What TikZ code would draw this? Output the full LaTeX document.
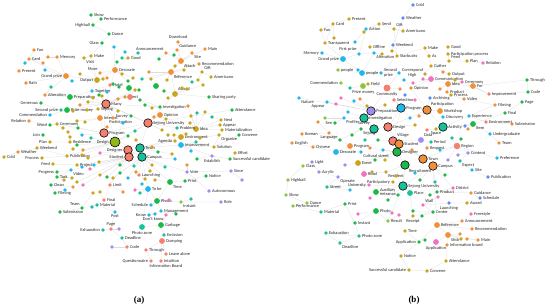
\documentclass[tikz,border=0pt]{standalone}
\usepackage{fontspec}
\setmainfont{Carlito}
\newfontfamily\capfont{Liberation Serif}
\usetikzlibrary{backgrounds}

\definecolor{corg}{HTML}{F0913A}
\definecolor{colv}{HTML}{C9A51C}
\definecolor{cgrn}{HTML}{1CB84A}
\definecolor{ctea}{HTML}{17C29B}
\definecolor{ccya}{HTML}{21B7EA}
\definecolor{csal}{HTML}{F5806E}
\definecolor{cpnk}{HTML}{F272C0}
\definecolor{clav}{HTML}{A08CF2}
\definecolor{clgr}{HTML}{8CC63E}
\definecolor{cblu}{HTML}{5B8EF5}
\definecolor{cygr}{HTML}{8DB817}

\tikzset{
  dot/.style={circle, inner sep=0pt, minimum size=3.9pt},
  big/.style={minimum size=5.8pt},
  hub/.style={minimum size=8.5pt, draw=black, line width=0.6pt},
  lbl/.style={font=\fontsize{4.4}{4.8}\selectfont, inner sep=0.5pt, text=black!85},
  every label/.style={lbl},
  edge/.style={draw=gray!27, line width=0.25pt},
  capt/.style={font=\capfont\bfseries\fontsize{9}{10}\selectfont, inner sep=0pt}
}

\begin{document}
\begin{tikzpicture}[x=1pt, y=-1pt, label distance=0.2pt]
  \useasboundingbox (0,0) rectangle (550,308);

  % (a) hubs
  \node[dot, hub, minimum size=10pt, fill=cygr, label=left:Design] (adesign) at (115,142) {};
  \node[dot, hub, fill=csal, label=left:Designer] (adesigner) at (128,150) {};
  \node[dot, hub, fill=csal, label=left:Student] (astudent) at (129,157) {};
  \node[dot, hub, fill=ctea, label=right:Town] (atown) at (140,148) {};
  \node[dot, hub, fill=ctea, label=right:Campus] (acampus) at (142,157) {};
  \node[dot, hub, fill=csal, label=right:Sejong University] (asejuni) at (148,123) {};
  \node[dot, hub, fill=csal, label=right:Program] (aprog) at (104,133) {};
  \node[dot, hub, fill=csal, label=right:Many] (amany) at (106,104) {};

  % (a) top left
  \node[dot, fill=cgrn, label=right:Show] (ashow) at (91,15) {};
  \node[dot, fill=cgrn, label=right:Performance] (aperf) at (101,19) {};
  \node[dot, fill=cgrn, label=left:Highball] (ahigh) at (93,25) {};
  \node[dot, fill=cgrn, label=right:Dance] (adance) at (109,34) {};
  \node[dot, fill=cgrn, label=left:Glass] (aglass) at (102,43) {};
  \node[dot, fill=corg, label=right:Fan] (afan) at (34,50) {};
  \node[dot, fill=corg, label=right:Memory] (amem) at (57,57) {};
  \node[dot, fill=colv, label=right:Make] (amake) at (91,56) {};
  \node[dot, fill=corg, label=right:Card] (acard) at (29,59) {};
  \node[dot, fill=colv, label=below right:Visit] (avisit) at (84,58) {};
  \node[dot, fill=colv, label=right:Good] (agood) at (128,58) {};
  \node[dot, fill=corg, label=right:Present] (apres) at (19,71) {};
  \node[dot, big, fill=corg, label=left:Grand prize] (agrand) at (66,76) {};
  \node[dot, fill=corg, label=above left:More] (amore) at (100,73) {};
  \node[dot, big, fill=corg, label=right:Decorate] (adeco) at (115,70) {};
  \node[dot, big, fill=colv, label=left:Output] (aout) at (97,80) {};
  \node[dot, fill=corg, label=right:Rain] (arain) at (26,83) {};
  \node[dot, fill=ccya, label=right:Together] (atog) at (92,91) {};
  \node[dot, fill=csal, label=right:Hotel] (ahotel) at (110,85) {};
  \node[dot, fill=corg, label=right:Alteration] (aalt) at (45,95) {};
  \node[dot, big, fill=cgrn, label=right:Preparation] (aprep) at (70,97) {};
  \node[dot, fill=colv, label=right:Event] (aevent) at (125,97) {};

  % (a) top right
  \node[dot, fill=corg, label=above:Download] (adown) at (178,42) {};
  \node[dot, fill=corg, label=above left:Announcement] (aann) at (166,53) {};
  \node[dot, fill=corg, label=above right:Guidance] (aguid) at (177,50) {};
  \node[dot, fill=corg, label=right:Main] (amain) at (205,49) {};
  \node[dot, fill=corg, label=below right:Site] (asite) at (192,53) {};
  \node[dot, big, fill=corg, label=below right:Attach] (aatt) at (181,61) {};
  \node[dot, fill=corg, label=right:Recommendation] (arec) at (199,64) {};
  \node[dot, fill=colv, label=above right:Gift] (agift) at (202,72) {};
  \node[dot, fill=colv, label=right:Americano] (aamer) at (211,77) {};
  \node[dot, big, fill=corg, label=below right:Reference] (aref) at (171,72) {};
  \node[dot, big, fill=colv, label=above right:Award] (aaward) at (175,94) {};
  \node[dot, fill=cgrn, label=right:Sharing party] (ashare) at (209,97) {};

  % (a) left
  \node[dot, fill=cgrn, label=left:Generous] (agen) at (41,103) {};
  \node[dot, fill=ctea, label=left:Second prize] (asec) at (61,110) {};
  \node[dot, big, fill=cgrn, label=right:Prize money] (aprize) at (67,110) {};
  \node[dot, fill=ccya, label=left:Commendation] (acomm) at (50,115) {};
  \node[dot, fill=colv, label=right:Sejong] (asejong) at (98,109) {};
  \node[dot, fill=corg, label=left:Relation] (arel) at (29,121) {};
  \node[dot, big, fill=corg, label=right:Interest] (aint) at (100,118) {};
  \node[dot, fill=cgrn, label=left:Survey] (asurvey) at (131,116) {};
  \node[dot, fill=cgrn, label=left:Word] (aword) at (50,125) {};
  \node[dot, fill=colv, label=right:Ceremony] (acere) at (57,124) {};
  \node[dot, fill=corg, label=above right:Participation] (apart) at (107,127) {};
  \node[dot, fill=cgrn, label=left:Join] (ajoin) at (43,135) {};
  \node[dot, fill=colv, label=left:Plan] (aplan) at (50,142) {};
  \node[dot, fill=colv, label=right:Residence] (ares) at (70,142) {};
  \node[dot, fill=corg, label=right:Weather] (aweather) at (18,152) {};
  \node[dot, fill=colv, label=right:Weekend] (aweek) at (37,148) {};
  \node[dot, fill=colv, label=right:Cold] (acold) at (4,157) {};
  \node[dot, fill=colv, label=left:Process] (aproc) at (42,158) {};
  \node[dot, fill=colv, label=right:Publication] (apub) at (67,156) {};
  \node[dot, fill=colv, label=left:Feed] (afeed) at (53,164) {};
  \node[dot, fill=colv, label=right:Project] (aproj) at (77,165) {};
  \node[dot, fill=cgrn, label=left:Progress] (aprogr) at (57,172) {};
  \node[dot, fill=ccya, label=below right:Video] (avideo) at (71,170) {};
  \node[dot, fill=cgrn, label=right:Task] (atask) at (57,177) {};
  \node[dot, fill=cgrn, label=right:Clean] (aclean) at (51,185) {};
  \node[dot, fill=cgrn, label=right:Filming] (afilm) at (55,193) {};
  \node[dot, fill=csal, label=right:Limit] (alimit) at (110,185) {};

  % (a) right
  \node[dot, fill=cgrn, label=right:Attendance] (aattend) at (232,110) {};
  \node[dot, fill=cgrn, label=right:Investigation] (ainv) at (160,107) {};
  \node[dot, big, fill=corg, label=right:Opinion] (aopin) at (160,115) {};
  \node[dot, fill=colv, label=right:Next] (anext) at (221,120) {};
  \node[dot, fill=colv, label=right:Appear] (aappear) at (220,125) {};
  \node[dot, fill=colv, label=right:Materialization] (amat) at (222,130) {};
  \node[dot, big, fill=colv, label=right:Idea] (aidea) at (196,129) {};
  \node[dot, fill=ctea, label=right:Problem] (aprob) at (177,128) {};
  \node[dot, fill=cgrn, label=right:Convene] (aconv) at (239,135) {};
  \node[dot, fill=colv, label=below right:Organize] (aorg) at (219,135) {};
  \node[dot, big, fill=colv, label=right:Environment] (aenv) at (181,137) {};
  \node[dot, fill=colv, label=left:Agenda] (aagenda) at (175,141) {};
  \node[dot, big, fill=ccya, label=right:Improvement] (aimpr) at (181,145) {};
  \node[dot, fill=colv, label=right:Solution] (asol) at (214,147) {};
  \node[dot, fill=colv, label=right:Effort] (aeffort) at (235,153) {};
  \node[dot, fill=cgrn, label=right:Successful candidate] (asucc) at (230,159) {};
  \node[dot, fill=clav, label=below:Establish] (aestab) at (212,156) {};
  \node[dot, fill=clav, label=right:Since] (asince) at (231,171) {};
  \node[dot, fill=csal, label=right:Launching] (alaunch) at (139,175) {};
  \node[dot, fill=clav, label=right:Vote] (avote) at (187,172) {};
  \node[dot, fill=cgrn, label=right:Notice] (anotice) at (206,176) {};
  \node[dot, fill=cgrn, label=right:Print] (aprint) at (185,181) {};
  \node[dot, big, fill=cgrn, label=below right:Time] (atime) at (170,182) {};
  \node[dot, big, fill=ccya, label=right:To be] (atobe) at (148,189) {};
  \node[dot, fill=clav, label=right:Autonomous] (aauto) at (209,191) {};

  % (a) bottom
  \node[dot, fill=clav, label=right:Role] (arole) at (221,202) {};
  \node[dot, big, fill=cgrn, label=right:Photo] (aphoto) at (157,201) {};
  \node[dot, fill=clgr, label=below right:Instant] (ainst) at (181,202) {};
  \node[dot, fill=ccya, label=left:Schedule] (asched) at (151,205) {};
  \node[dot, fill=ccya, label=right:Management] (amanage) at (161,211) {};
  \node[dot, fill=ccya, label=left:Know] (aknow) at (149,215) {};
  \node[dot, fill=cpnk, label=below left:Don't know] (adont) at (166,215) {};
  \node[dot, big, fill=cgrn, label=right:Garbage] (agarb) at (161,225) {};
  \node[dot, big, fill=ctea, label=below:Photo zone] (azone) at (142,227) {};
  \node[dot, fill=ctea, label=right:Emission] (aemis) at (164,235) {};
  \node[dot, big, fill=csal, label=right:Dumping] (adump) at (162,241) {};
  \node[dot, fill=csal, label=right:Through] (athrough) at (146,250) {};
  \node[dot, fill=csal, label=right:Leave alone] (aleave) at (166,254) {};
  \node[dot, fill=csal, label=left:Questionnaire] (aquest) at (151,261) {};
  \node[dot, fill=csal, label=right:Intuition] (aintu) at (161,261) {};
  \node[lbl] (aboard) at (166,266) {Information Board};
  \node[dot, fill=cgrn, label=above left:Team] (ateam) at (82,208) {};
  \node[dot, fill=ctea, label=right:Material] (amater) at (97,205) {};
  \node[dot, fill=csal, label=right:Final] (afinal) at (104,200) {};
  \node[dot, fill=cgrn, label=right:Submission] (asubm) at (60,212) {};
  \node[dot, fill=ccya, label=below:Post] (apost) at (115,212) {};
  \node[dot, fill=csal, label=above:Page] (apage) at (111,229) {};
  \node[dot, fill=ctea, label=left:Exhaustion] (aexh) at (103,230) {};
  \node[dot, fill=ctea, label=right:Deadline] (adead) at (122,238) {};
  \node[dot, fill=csal, label=right:Code] (acode) at (127,247) {};

  % (a) unlabelled members
  \foreach \n/\x/\y/\c/\h in {
      ua1/25/63/ccya/acard, ua2/43/63/corg/acard, ua3/48/57/corg/amem, ua4/45/70/ccya/agrand,
      ua5/72/81/ccya/agrand, ua6/51/87/ctea/aalt, ua7/80/74/colv/aout, ua8/114/47/ccya/adeco,
      ua9/125/52/ccya/agood, ua10/138/53/ctea/agood, ua11/117/62/cgrn/adeco, ua12/122/58/ctea/agood,
      ua13/103/79/colv/aout, ua14/107/78/corg/aout, ua15/122/74/colv/adeco, ua16/128/81/cgrn/adeco,
      ua17/133/78/colv/adeco, ua18/113/84/cgrn/ahotel, ua19/119/87/cgrn/ahotel, ua20/135/90/colv/amany,
      ua21/139/90/cgrn/amany, ua22/99/95/cgrn/amany, ua23/102/96/colv/amany, ua24/107/92/ccya/atog,
      ua25/174/55/cgrn/aatt, ua26/159/59/cgrn/aann, ua27/175/66/colv/aatt, ua28/184/70/colv/aref,
      ua29/167/80/colv/aref, ua30/192/82/ctea/aref, ua31/198/80/colv/agift, ua32/203/85/colv/aaward,
      ua33/182/88/colv/aaward, ua34/187/89/colv/aaward, ua35/151/79/colv/aref, ua36/149/72/corg/aref,
      ua37/142/79/ctea/aref, ua38/164/91/cgrn/aaward, ua39/73/111/colv/aprize, ua40/80/105/corg/amany,
      ua41/88/102/colv/amany, ua42/93/98/colv/amany, ua43/87/110/colv/asejong, ua44/77/121/colv/aint,
      ua45/85/122/colv/aint, ua46/63/128/colv/acere, ua47/68/132/colv/ares, ua48/78/128/cgrn/aprog,
      ua49/70/137/colv/ares, ua50/82/135/ccya/aprog, ua51/91/138/ctea/adesign, ua52/77/145/cgrn/adesign,
      ua53/73/149/colv/apub, ua54/83/150/corg/adesign, ua55/82/155/colv/adesign, ua56/88/158/colv/adesigner,
      ua57/100/153/cpnk/adesigner, ua58/99/162/colv/astudent, ua59/94/165/ccya/astudent, ua60/90/169/cpnk/astudent,
      ua61/82/167/ccya/aproj, ua62/72/178/colv/atask, ua63/64/180/colv/atask, ua64/77/182/colv/astudent,
      ua65/83/185/cpnk/astudent, ua66/100/175/colv/astudent, ua67/107/177/cgrn/astudent, ua68/113/178/colv/acampus,
      ua69/120/173/cgrn/acampus, ua70/128/178/ccya/acampus, ua71/136/172/colv/acampus, ua72/123/192/corg/alimit,
      ua73/93/193/colv/ateam, ua74/100/192/colv/afinal, ua75/73/187/corg/aclean, ua76/65/190/ccya/afilm,
      ua77/152/108/colv/ainv, ua78/168/98/colv/aaward, ua79/154/117/corg/aopin, ua80/166/119/colv/aopin,
      ua81/188/106/corg/aidea, ua82/191/116/colv/aidea, ua83/197/113/ctea/aidea, ua84/205/112/colv/aidea,
      ua85/162/130/colv/asejuni, ua86/168/135/colv/aprob, ua87/174/135/colv/aenv, ua88/186/134/colv/aenv,
      ua89/190/123/colv/aidea, ua90/212/117/ctea/anext, ua91/196/142/ctea/aimpr, ua92/191/151/ccya/aimpr,
      ua93/200/138/colv/aorg, ua94/152/147/colv/atown, ua95/158/152/cgrn/atown, ua96/197/159/cgrn/aestab,
      ua97/172/154/colv/atown, ua98/175/159/ccya/acampus, ua99/152/165/colv/acampus, ua100/150/171/colv/acampus,
      ua101/165/167/ctea/acampus, ua102/187/165/corg/avote, ua103/155/180/colv/atime, ua104/145/179/colv/alaunch,
      ua105/142/184/ccya/atobe, ua106/135/190/cpnk/atobe, ua107/140/193/ctea/atobe, ua108/242/180/clav/asince,
      ua109/118/111/colv/amany, ua110/123/123/ccya/adesign, ua111/135/131/ctea/asejuni, ua112/113/118/corg/amany,
      ua113/128/136/cgrn/adesign, ua114/136/140/colv/atown, ua115/120/165/cgrn/astudent, ua116/134/166/ctea/acampus,
      ua117/119/229/clav/apage, ua118/112/247/clav/acode, ua119/176/214/cgrn/amanage, ua120/191/199/ctea/ainst,
      ua121/169/200/cpnk/aphoto, ua122/155/214/ccya/aknow, ua123/92/207/ctea/amater, ua124/140/100/cgrn/ainv,
      ua125/145/105/cgrn/ainv, ua126/118/99/corg/amany}{
    \node[dot, fill=\c] (\n) at (\x,\y) {};
    \begin{scope}[on background layer]
      \draw[edge] (\n) -- (\h);
    \end{scope}
  }
  \node[dot, big, fill=cgrn] (ua127) at (129,88) {};
  \node[dot, big, fill=csal] (ua128) at (130,97) {};
  \node[dot, big, fill=cgrn] (ua129) at (156,86) {};

  % (b) hubs
  \node[dot, hub, fill=clav, label=right:Preparation] (bprep) at (371,111) {};
  \node[dot, hub, fill=ccya, label=right:Program] (bprog) at (401,108) {};
  \node[dot, hub, fill=ctea, label=right:Investigation] (binv) at (364,118) {};
  \node[dot, hub, fill=ctea, label=above left:Survey] (bsurvey) at (374,129) {};
  \node[dot, hub, fill=csal, label=right:Design] (bdesign) at (388,127) {};
  \node[dot, hub, fill=csal, label=above right:Village] (bvillage) at (393,141) {};
  \node[dot, hub, fill=corg, label=right:Student] (bstudent) at (399,144) {};
  \node[dot, hub, fill=cgrn, label=right:Designer] (bdesigner) at (397,152) {};
  \node[dot, hub, fill=cgrn, label=below right:Recruitment] (brecruit) at (405,165) {};
  \node[dot, hub, fill=ctea, label=right:Sejong University] (bsejuni) at (403,186) {};
  \node[dot, hub, fill=corg, label=above right:Participation] (bpartn) at (427,110) {};
  \node[dot, hub, fill=ctea, label=right:Activity] (bactivity) at (443,127) {};
  \node[dot, hub, fill=corg, label=right:Town] (btown) at (423,159) {};
  \node[dot, hub, fill=corg, label=right:Campus] (bcampus) at (433,166) {};
  \node[dot, big, minimum size=7pt, fill=csal, label=below:Community] (bcommu) at (387,88) {};

  % (b) top
  \node[dot, fill=cblu, label=right:Cold] (bcold) at (413,5) {};
  \node[dot, fill=cblu, label=right:Weather] (bweather) at (403,18) {};
  \node[dot, fill=colv, label=right:Present] (bpres) at (349,19) {};
  \node[dot, fill=colv, label=right:Card] (bcard) at (333,24) {};
  \node[dot, fill=colv, label=right:Fan] (bfan) at (321,30) {};
  \node[dot, fill=ccya, label=right:Action] (baction) at (366,29) {};
  \node[dot, fill=colv, label=right:Send] (bsend) at (379,24) {};
  \node[dot, fill=colv, label=above right:Gift] (bgift) at (394,29) {};
  \node[dot, fill=colv, label=right:Americano] (bamer) at (403,31) {};
  \node[dot, fill=colv, label=right:Transparent] (btrans) at (325,43) {};
  \node[dot, fill=colv, label=right:Offline] (boff) at (370,47) {};
  \node[dot, fill=cblu, label=right:Weekend] (bweek) at (393,45) {};
  \node[dot, fill=ccya, label=left:Memory] (bmem) at (322,53) {};
  \node[dot, fill=ccya, label=above left:First prize] (bfirst) at (359,54) {};
  \node[dot, fill=ccya, label=below right:Alteration] (balt) at (374,53) {};
  \node[dot, fill=colv, label=right:Starbucks] (bstar) at (397,56) {};
  \node[dot, big, fill=ccya, label=left:Grand prize] (bgrand) at (343,59) {};
  \node[dot, fill=clgr, label=right:people] (bpeople) at (338,70) {};
  \node[dot, big, fill=ccya, label=right:people] (bpeople2) at (362,73) {};
  \node[dot, fill=ccya, label={[align=left]right:Second\\prize}] (bsec) at (381,73) {};
  \node[dot, fill=ccya, label={[align=center]right:Correspond\\High}] (bcorr) at (399,73) {};
  \node[dot, fill=clgr, label=left:Commendation] (bcomm) at (341,83) {};
  \node[dot, big, fill=clgr] (bfield0) at (363,86) {};
  \node[dot, fill=colv, label=right:Field] (bfield) at (368,84) {};
  \node[dot, fill=ctea, label=below right:Prize money] (bprize) at (350,88) {};
  \node[dot, fill=colv, label=right:Make] (bmake) at (425,48) {};
  \node[dot, fill=colv, label=right:Good] (bgood) at (448,47) {};
  \node[dot, fill=colv, label=right:As] (bas) at (429,56) {};
  \node[dot, fill=colv, label=right:Participation process] (bpp) at (448,54) {};
  \node[dot, fill=colv, label=above right:Feed] (bfeed) at (449,61) {};
  \node[dot, fill=colv, label=right:Plan] (bplan) at (467,61) {};
  \node[dot, fill=cpnk, label=right:Relation] (brel) at (483,63) {};
  \node[dot, fill=colv, label=right:Gather] (bgather) at (431,66) {};
  \node[dot, fill=colv, label=right:Output] (boutput) at (449,74) {};
  \node[dot, fill=cgrn, label=right:Through] (bthrough) at (527,80) {};
  \node[dot, fill=cgrn, label=right:Code] (bcode) at (528,92) {};
  \node[dot, big, fill=cpnk, label=right:Communication] (bcommun) at (431,79) {};
  \node[dot, big, fill=corg, label=right:Idea] (bidea) at (448,84) {};
  \node[dot, fill=cpnk, label=right:Ceremony] (bcere) at (462,82) {};
  \node[dot, big, fill=corg, label=right:For] (bfor) at (473,86) {};
  \node[dot, fill=colv, label=right:Opinion] (bopin) at (411,88) {};
  \node[dot, fill=corg, label=right:Product] (bprod) at (447,92) {};
  \node[dot, fill=colv, label=right:Process] (bproc) at (451,95) {};
  \node[dot, fill=csal, label=right:Improvement] (bimpr) at (489,94) {};
  \node[dot, fill=cblu, label=right:Archiving] (barch) at (430,98) {};
  \node[dot, fill=corg, label=right:Video] (bvideo) at (464,99) {};

  % (b) left
  \node[dot, fill=ccya, label=below right:Nature] (bnature) at (299,98) {};
  \node[dot, fill=ccya, label=below left:Appear] (bappear) at (327,102) {};
  \node[dot, fill=csal, label=right:Selection] (bsel) at (394,100) {};
  \node[dot, fill=ccya, label=below right:Profile] (bprofile) at (344,118) {};
  \node[dot, fill=cgrn, label=left:See] (bsee) at (335,123) {};
  \node[dot, fill=corg, label=right:Korean] (bkorean) at (302,134) {};
  \node[dot, fill=corg, label=below:Language] (blang) at (329,133) {};
  \node[dot, fill=cgrn, label=below right:Sejong] (bsejong) at (361,129) {};
  \node[dot, fill=corg, label=right:English] (benglish) at (292,143) {};
  \node[dot, big, fill=corg, label=right:Program] (bprogram) at (350,146) {};
  \node[dot, fill=corg, label=right:Chinese] (bchinese) at (313,147) {};
  \node[dot, big, fill=ccya, label=right:Decorate] (bdeco) at (336,152) {};
  \node[dot, fill=ccya, label=below right:Cultural street] (bcult) at (361,152) {};
  \node[dot, fill=clav, label=right:Light] (blight) at (312,162) {};
  \node[dot, fill=clgr, label=right:Class] (bclass) at (303,166) {};
  \node[dot, big, fill=colv, label=right:Event] (bevent) at (358,163) {};
  \node[dot, fill=clav, label=right:Acrylic] (bacryl) at (319,172) {};
  \node[dot, big, fill=cpnk, label=right:Road] (broad) at (364,174) {};
  \node[dot, fill=colv, label=below right:Resident] (bresid) at (386,172) {};
  \node[dot, fill=clgr, label=right:Highball] (bhigh) at (288,180) {};
  \node[dot, fill=clav, label=below right:Operate] (boper) at (338,177) {};
  \node[dot, fill=ctea, label=right:Street] (bstreet) at (327,187) {};
  \node[dot, fill=cpnk, label=left:University] (buniv) at (369,185) {};
  \node[dot, fill=colv, label=left:Participatory] (bpartic) at (393,182) {};

  % (b) bottom
  \node[dot, fill=clgr, label=right:Show] (bshow) at (286,195) {};
  \node[dot, fill=clgr, label=right:Dance] (bdance) at (307,203) {};
  \node[dot, fill=clgr, label=right:Performance] (bperf) at (293,206) {};
  \node[dot, fill=ctea, label=right:Material] (bmater) at (321,212) {};
  \node[dot, fill=cgrn, label=right:Print] (bprint) at (345,204) {};
  \node[dot, big, fill=cgrn, label=right:Photo] (bphoto) at (376,211) {};
  \node[dot, fill=cgrn, label=right:Instant] (binst) at (355,223) {};
  \node[dot, fill=clgr, label=right:Result] (bresult) at (388,221) {};
  \node[dot, big, fill=cgrn, label={[align=left]right:Auxiliary\\entrance}] (baux) at (376,192) {};
  \node[dot, fill=ctea, label=right:Exhaustion] (bexh) at (326,233) {};
  \node[dot, fill=ctea, label=right:Photo zone] (bzone) at (359,236) {};
  \node[dot, fill=colv, label=right:Time] (btime) at (405,231) {};
  \node[dot, fill=ctea, label=below right:Deadline] (bdead) at (340,243) {};
  \node[dot, fill=cgrn, label=left:Application] (bapp) at (419,242) {};
  \node[dot, fill=colv, label=right:Notice] (bnoti) at (401,256) {};
  \node[dot, fill=colv, label=left:Successful candidate] (bsucc) at (409,270) {};
  \node[dot, fill=colv, label=right:Convene] (bconv) at (427,271) {};
  \node[dot, fill=colv, label=right:Attendance] (battend) at (446,261) {};
  \node[dot, fill=corg, label=right:Information board] (biboard) at (447,245) {};
  \node[dot, big, fill=cpnk, label=below:Application] (bapp2) at (436,242) {};
  \node[dot, big, fill=corg, label=below right:Stick] (bstick) at (448,235) {};
  \node[dot, fill=corg, label=right:Main] (bmain) at (478,240) {};
  \node[dot, fill=corg, label=right:Recommendation] (brecom) at (472,229) {};
  \node[dot, big, fill=corg, label=right:Reference] (bref) at (437,225) {};
  \node[dot, fill=corg, label=right:Announcement] (bann) at (462,221) {};
  \node[dot, fill=cpnk, label=right:Freestyle] (bfree) at (471,214) {};
  \node[dot, fill=colv, label=right:Award] (baward) at (467,203) {};
  \node[dot, fill=cblu, label=below:Launching] (blaunch) at (449,203) {};
  \node[dot, fill=cblu, label=right:Schedule] (bsched) at (480,198) {};
  \node[dot, fill=corg, label=right:Guidance] (bguid) at (471,193) {};
  \node[dot, fill=cpnk, label=above right:Wall] (bwall) at (423,205) {};
  \node[dot, fill=cgrn, label=right:Center] (bcenter) at (433,212) {};
  \node[dot, fill=colv, label=below:Receipt] (breceipt) at (413,216) {};
  \node[dot, big, fill=ctea, label=right:Place] (bplace) at (410,193) {};
  \node[dot, fill=cgrn, label=right:Product] (bproduct2) at (437,192) {};
  \node[dot, fill=cpnk, label=right:District] (bdistrict) at (453,188) {};

  % (b) right
  \node[dot, fill=cblu, label=right:Publication] (bpubl) at (488,177) {};
  \node[dot, fill=ccya, label=right:Site] (bsite) at (472,170) {};
  \node[dot, fill=ctea, label=below right:Expect] (bexpect) at (460,161) {};
  \node[dot, fill=clav, label=right:Content] (bcontent) at (468,153) {};
  \node[dot, fill=ccya, label=right:Preference] (bpref) at (497,158) {};
  \node[dot, fill=corg, label=right:Team] (bteam) at (499,143) {};
  \node[dot, big, minimum size=6.5pt, fill=csal, label=right:Region] (bregion) at (457,146) {};
  \node[dot, fill=corg, label=right:Request] (brequest) at (427,148) {};
  \node[dot, fill=ctea, label=right:Period] (bperiod) at (431,142) {};
  \node[dot, big, fill=clav, label=above right:Data] (bdata) at (421,140) {};
  \node[dot, fill=colv, label=below:Space] (bspace) at (436,129) {};
  \node[dot, fill=ccya, label=right:Undergraduate] (bunder) at (490,134) {};
  \node[dot, big, fill=cgrn, label=below right:Item] (bitem) at (473,124) {};
  \node[dot, fill=corg, label=right:Submission] (bsubm) at (512,124) {};
  \node[dot, fill=csal, label=right:Environment] (benv) at (486,122) {};
  \node[dot, fill=ccya, label=right:Experience] (bexp) at (469,116) {};
  \node[dot, fill=cgrn, label=right:Final] (bfinal) at (505,113) {};
  \node[dot, fill=cgrn, label=right:Page] (bpage) at (522,102) {};
  \node[dot, fill=corg, label=right:Filming] (bfilm) at (495,105) {};
  \node[dot, fill=ccya, label=right:Discovery] (bdisc) at (443,117) {};
  \node[dot, big, fill=corg, label=right:Workshop] (bwork) at (440,111) {};

  % (b) unlabelled members
  \foreach \n/\x/\y/\c/\h in {
      ub1/364/32/colv/baction, ub2/334/38/colv/bcard, ub3/355/42/ccya/baction, ub4/382/54/colv/balt,
      ub5/392/51/colv/bweek, ub6/358/70/ccya/bpeople2, ub7/400/89/corg/bcommu, ub8/413/83/cpnk/bcommun,
      ub9/341/98/cpnk/bprep, ub10/336/104/cpnk/bappear, ub11/354/101/ccya/bprep, ub12/360/99/corg/bprep,
      ub13/367/106/colv/bprep, ub14/443/72/corg/boutput, ub15/425/74/colv/bgather, ub16/423/79/cpnk/bcommun,
      ub17/404/80/ccya/bopin, ub18/455/80/colv/bidea, ub19/440/89/corg/bidea, ub20/427/130/csal/bspace,
      ub21/452/138/ctea/bregion, ub22/461/139/cgrn/bregion, ub23/465/126/cblu/bitem, ub24/468/129/corg/bitem,
      ub25/458/155/clav/bcontent, ub26/430/195/cgrn/bproduct2, ub27/438/197/cpnk/bwall, ub28/413/211/cgrn/bcenter,
      ub29/460/234/corg/bstick, ub30/461/239/colv/bstick, ub31/467/239/corg/bmain, ub32/425/240/cgrn/bapp,
      ub33/358/214/cpnk/bphoto, ub34/392/213/cpnk/bphoto, ub35/399/215/cpnk/bresult, ub36/398/195/cgrn/baux,
      ub37/410/118/ccya/bprog, ub38/415/125/colv/bdesign, ub39/419/116/corg/bpartn, ub40/415/100/cpnk/bprog,
      ub41/405/95/cblu/bprog, ub42/385/105/colv/bprep, ub43/378/140/cgrn/bvillage, ub44/383/150/ccya/bdesigner,
      ub45/375/160/cgrn/bdesigner, ub46/372/172/colv/broad, ub47/385/160/colv/bdesigner, ub48/412/150/corg/btown,
      ub49/415/173/ccya/brecruit, ub50/420/180/cgrn/bcampus, ub51/396/176/colv/bsejuni, ub52/388/200/cgrn/bsejuni,
      ub53/370/198/cpnk/baux, ub54/350/190/ccya/bstreet, ub55/345/165/clav/bevent, ub56/352/135/cgrn/bsejong,
      ub57/340/140/cgrn/bsejong, ub58/325/118/clgr/bprofile, ub59/318/122/corg/blang, ub60/440/150/ccya/bregion,
      ub61/445/175/cgrn/bcampus, ub62/435/182/ctea/bcampus, ub63/448/160/clav/bregion, ub64/365/140/ctea/bsurvey,
      ub65/370/148/corg/bdesigner, ub66/348/112/ccya/binv, ub67/422/216/cgrn/bcenter}{
    \node[dot, fill=\c] (\n) at (\x,\y) {};
    \begin{scope}[on background layer]
      \draw[edge] (\n) -- (\h);
    \end{scope}
  }

  % captions
  \node[capt] (capa) at (139,300) {(a)};
  \node[capt] (capb) at (414,300) {(b)};

  % links
  \begin{scope}[on background layer]
    \draw[edge] (ashow) -- (ahigh) (aperf) -- (ahigh) (ahigh) -- (adance) (adance) -- (aglass)
      (aglass) -- (amake) (afan) -- (acard) (acard) -- (amem) (apres) -- (acard) (acard) -- (agrand)
      (amem) -- (agrand) (arain) -- (agrand) (agrand) -- (aout) (agrand) -- (aalt) (aalt) -- (aprep)
      (amake) -- (avisit) (amake) -- (aout) (avisit) -- (aout) (agood) -- (adeco) (amore) -- (adeco)
      (adeco) -- (aout) (aout) -- (atog) (ahotel) -- (atog) (atog) -- (aprep) (aprep) -- (amany)
      (adown) -- (aatt) (aann) -- (aatt) (aguid) -- (aatt) (amain) -- (aatt) (asite) -- (aatt)
      (aatt) -- (aref) (arec) -- (aref) (agift) -- (aamer) (agift) -- (aref) (aref) -- (aaward)
      (aaward) -- (ashare) (aaward) -- (asejuni) (aevent) -- (amany) (adeco) -- (amany)
      (agen) -- (asec) (asec) -- (aprize) (acomm) -- (aprize) (aprize) -- (amany) (arel) -- (aword)
      (aword) -- (acere) (acere) -- (aprog) (ajoin) -- (aplan) (aplan) -- (ares) (ares) -- (adesign)
      (aweather) -- (aweek) (acold) -- (aweather) (aweek) -- (apub) (aproc) -- (apub) (apub) -- (adesign)
      (afeed) -- (aproj) (aproj) -- (astudent) (aprogr) -- (avideo) (atask) -- (avideo) (aclean) -- (atask)
      (afilm) -- (aclean) (avideo) -- (astudent) (asejong) -- (amany) (aint) -- (aprog) (apart) -- (aprog)
      (asurvey) -- (amany) (asurvey) -- (asejuni) (alimit) -- (astudent)
      (aattend) -- (asejuni) (ainv) -- (amany) (aopin) -- (asejuni) (anext) -- (aidea) (aappear) -- (aidea)
      (amat) -- (aidea) (aidea) -- (aprob) (aprob) -- (asejuni) (aconv) -- (asol) (aorg) -- (asol)
      (aenv) -- (atown) (aagenda) -- (atown) (aimpr) -- (atown) (asol) -- (aimpr) (aeffort) -- (asucc)
      (asucc) -- (aestab) (aestab) -- (aimpr) (asince) -- (avote) (alaunch) -- (acampus) (avote) -- (acampus)
      (anotice) -- (aprint) (aprint) -- (atime) (atime) -- (acampus) (atobe) -- (acampus) (aauto) -- (avote)
      (arole) -- (ainst) (aphoto) -- (atime) (ainst) -- (aphoto) (asched) -- (aphoto) (amanage) -- (aphoto)
      (aknow) -- (amanage) (adont) -- (amanage) (agarb) -- (adont) (azone) -- (agarb) (aemis) -- (agarb)
      (adump) -- (aemis) (athrough) -- (adump) (aleave) -- (adump) (aquest) -- (athrough) (aintu) -- (adump)
      (aboard) -- (aintu) (ateam) -- (amater) (amater) -- (afinal) (afinal) -- (alimit) (asubm) -- (ateam)
      (apost) -- (amater) (apage) -- (apost) (aexh) -- (apage) (adead) -- (apage) (acode) -- (adead)
      (azone) -- (atobe) (aphoto) -- (atobe) (adesign) -- (adesigner) (adesigner) -- (astudent)
      (astudent) -- (atown) (atown) -- (acampus) (adesign) -- (aprog) (aprog) -- (amany) (amany) -- (asejuni)
      (asejuni) -- (atown) (adesign) -- (asejuni) (adesign) -- (atown) (astudent) -- (acampus)
      (adesign) -- (amany) (adesigner) -- (acampus) (aprog) -- (asejuni);
    \draw[edge] (bcold) -- (bweather) (bweather) -- (bweek) (bpres) -- (bcard) (bcard) -- (bfan)
      (bcard) -- (btrans) (bfan) -- (btrans) (baction) -- (bsend) (bsend) -- (bgift) (bgift) -- (bamer)
      (bgift) -- (bstar) (baction) -- (bfirst) (btrans) -- (bgrand) (bmem) -- (bgrand) (bgrand) -- (bfirst)
      (bfirst) -- (balt) (boff) -- (balt) (bweek) -- (bstar) (bstar) -- (bsec) (balt) -- (bpeople2)
      (bgrand) -- (bpeople2) (bpeople) -- (bpeople2) (bpeople2) -- (bsec) (bsec) -- (bcorr)
      (bcomm) -- (bprize) (bprize) -- (bfield0) (bfield0) -- (bfield) (bfield) -- (bcommu) (bcommu) -- (bprog)
      (bcommu) -- (bprep) (bcorr) -- (bcommu) (bmake) -- (bas) (bgood) -- (bpp) (bas) -- (bgather)
      (bpp) -- (bfeed) (bfeed) -- (bplan) (bplan) -- (brel) (bgather) -- (boutput) (boutput) -- (bidea)
      (bcere) -- (bidea) (bfor) -- (bidea) (bcere) -- (bimpr) (bfor) -- (bimpr) (bopin) -- (bpartn)
      (bprod) -- (bidea) (bproc) -- (bprod) (barch) -- (bpartn) (bvideo) -- (bproc) (bcommun) -- (bidea)
      (bcommun) -- (bopin) (bthrough) -- (bcode) (bthrough) -- (bfor) (bcode) -- (bimpr) (bstar) -- (bmake)
      (bnature) -- (bprep) (bappear) -- (bprep) (bsel) -- (bprog) (bprep) -- (binv) (binv) -- (bsurvey)
      (bsurvey) -- (bdesign) (bprog) -- (bdesign) (bprofile) -- (binv) (bsee) -- (bprofile)
      (bdesign) -- (bvillage) (bvillage) -- (bstudent) (bstudent) -- (bdesigner) (bdesigner) -- (brecruit)
      (bkorean) -- (blang) (blang) -- (bprogram) (benglish) -- (bchinese) (bchinese) -- (bdeco)
      (bprogram) -- (bdeco) (bdeco) -- (bcult) (bcult) -- (bdesigner) (blight) -- (bclass) (blight) -- (bacryl)
      (bacryl) -- (boper) (bclass) -- (bhigh) (bevent) -- (bdesigner) (broad) -- (bresid) (bresid) -- (brecruit)
      (bhigh) -- (bshow) (bshow) -- (bdance) (bdance) -- (bperf) (bperf) -- (bmater) (bmater) -- (bprint)
      (bprint) -- (binst) (binst) -- (bphoto) (bphoto) -- (bresult) (baux) -- (bsejuni) (bstreet) -- (buniv)
      (buniv) -- (bsejuni) (boper) -- (bstreet) (bexh) -- (bzone) (bzone) -- (bdead) (bexh) -- (bdead)
      (bzone) -- (binst) (btime) -- (bapp) (bapp) -- (bnoti) (bnoti) -- (bsucc) (bsucc) -- (bconv)
      (bconv) -- (battend) (battend) -- (biboard) (biboard) -- (bstick) (bapp2) -- (bstick) (bstick) -- (bref)
      (bmain) -- (bstick) (brecom) -- (bref) (bann) -- (bref) (bfree) -- (bann) (baward) -- (blaunch)
      (blaunch) -- (bwall) (bsched) -- (bguid) (bguid) -- (bproduct2) (bwall) -- (bcenter) (bcenter) -- (breceipt)
      (breceipt) -- (bplace) (bplace) -- (bsejuni) (bproduct2) -- (bdistrict) (bdistrict) -- (bcampus)
      (bpubl) -- (bsite) (bsite) -- (bexpect) (bexpect) -- (bcontent) (bcontent) -- (bregion) (bpref) -- (bregion)
      (bteam) -- (bunder) (bregion) -- (btown) (brequest) -- (btown) (bperiod) -- (bdata) (bdata) -- (bvillage)
      (bspace) -- (bactivity) (bunder) -- (bitem) (bitem) -- (bactivity) (bsubm) -- (benv) (benv) -- (bexp)
      (bexp) -- (bactivity) (bfinal) -- (bpage) (bfilm) -- (bvideo) (bdisc) -- (bactivity) (bwork) -- (bpartn)
      (bpartn) -- (bprog) (bactivity) -- (bpartn) (btown) -- (bcampus) (btown) -- (bstudent) (bcampus) -- (bsejuni)
      (bsejuni) -- (brecruit) (bpartic) -- (bsejuni) (bref) -- (bcampus) (bapp) -- (bref) (bresult) -- (bsejuni)
      (bdesign) -- (bpartn) (bdesign) -- (bstudent) (bprog) -- (bvillage) (bfinal) -- (bitem) (bfilm) -- (bactivity);
  \end{scope}
\end{tikzpicture}
\end{document}
